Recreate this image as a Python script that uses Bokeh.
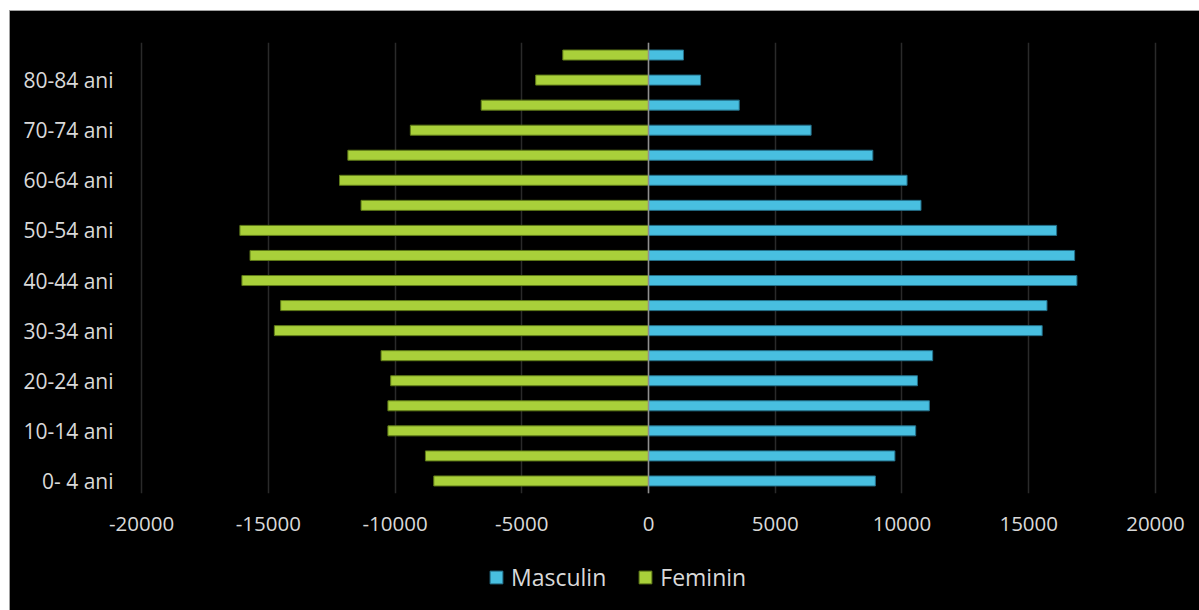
from bokeh.plotting import figure
from bokeh.layouts import column
from bokeh.models import FixedTicker, Legend, LegendItem, Span, Range1d, ColumnDataSource
from bokeh.embed import file_html
from bokeh.resources import INLINE

categories = ["0- 4 ani", "5-9 ani", "10-14 ani", "15-19 ani", "20-24 ani", "25-29 ani",
              "30-34 ani", "35-39 ani", "40-44 ani", "45-49 ani", "50-54 ani", "55-59 ani",
              "60-64 ani", "65-69 ani", "70-74 ani", "75-79 ani", "80-84 ani", "85+ ani"]
masculin = [8950, 9720, 10540, 11080, 10610, 11210, 15530, 15720, 16900, 16810,
            16100, 10750, 10200, 8850, 6415, 3580, 2055, 1380]
feminin = [-8470, -8800, -10280, -10280, -10170, -10550, -14760, -14510, -16040, -15720,
           -16120, -11340, -12190, -11860, -9395, -6600, -4450, -3380]
x_ticks = [-20000, -15000, -10000, -5000, 0, 5000, 10000, 15000, 20000]
x_tick_labels = ["-20000", "-15000", "-10000", "-5000", "0", "5000", "10000", "15000", "20000"]
series_names = ["Masculin", "Feminin"]

FONT = "Open Sans"
TXT = "#d9d9d9"
BLUE = "#48bfe0"
GREEN = "#a9d03a"
BLUE_EDGE = "#24708a"
GREEN_EDGE = "#5f7a18"
BLACK_CSS = {"background-color": "black"}

ypos = list(range(len(categories)))
src = ColumnDataSource(dict(y=ypos, m=masculin, f=feminin, cat=categories))

p = figure(width=1189, height=545, output_backend="svg", toolbar_location=None,
           x_range=Range1d(-20080, 20080), y_range=Range1d(-0.5, len(categories) - 0.5),
           min_border_left=129, min_border_right=42, min_border_top=31, min_border_bottom=63,
           background_fill_color="black", border_fill_color="black",
           outline_line_color=None)
p.styles = dict(BLACK_CSS)

rm = p.hbar(y="y", left=0, right="m", height=0.4, source=src,
            fill_color=BLUE, line_color=BLUE_EDGE, line_width=1)
rf = p.hbar(y="y", left="f", right=0, height=0.4, source=src,
            fill_color=GREEN, line_color=GREEN_EDGE, line_width=1)

p.add_layout(Span(location=0, dimension="height", line_color="#8f8f8f", line_width=1.5))

# x axis
p.xaxis.ticker = FixedTicker(ticks=x_ticks)
p.xaxis.major_label_overrides = {t: l for t, l in zip(x_ticks, x_tick_labels)}
p.xaxis.axis_line_color = None
p.xaxis.major_tick_line_color = None
p.xaxis.minor_tick_line_color = None
p.xaxis.major_label_text_color = TXT
p.xaxis.major_label_text_font = FONT
p.xaxis.major_label_text_font_size = "20.5px"
p.xaxis.major_label_standoff = 17

# y axis
p.yaxis.ticker = FixedTicker(ticks=ypos[::2])
p.yaxis.major_label_overrides = {i: categories[i] for i in ypos[::2]}
p.yaxis.axis_line_color = None
p.yaxis.major_tick_line_color = None
p.yaxis.minor_tick_line_color = None
p.yaxis.major_label_text_color = TXT
p.yaxis.major_label_text_font = FONT
p.yaxis.major_label_text_font_size = "21px"
p.yaxis.major_label_standoff = 20

p.xgrid.grid_line_color = "#2a2a2a"
p.xgrid.grid_line_width = 1.5
p.ygrid.grid_line_color = None

# legend strip below the chart (its renderers sit outside the visible range)
lf = figure(width=1189, height=54, output_backend="svg", toolbar_location=None,
            x_range=Range1d(-20080, 20080), y_range=Range1d(100, 101),
            min_border=0, background_fill_color="black", border_fill_color="black",
            outline_line_color=None)
lf.styles = dict(BLACK_CSS)
lf.axis.visible = False
lf.grid.visible = False
lm = lf.hbar(y="y", left=0, right="m", height=0.4, source=src,
             fill_color=BLUE, line_color=BLUE_EDGE, line_width=1)
lfm = lf.hbar(y="y", left="f", right=0, height=0.4, source=src,
              fill_color=GREEN, line_color=GREEN_EDGE, line_width=1)
legend = Legend(items=[LegendItem(label=series_names[0], renderers=[lm]),
                       LegendItem(label=series_names[1], renderers=[lfm])],
                orientation="horizontal", location=(349, 17),
                background_fill_color="black", background_fill_alpha=0, border_line_color=None,
                label_text_color=TXT, label_text_font=FONT, label_text_font_size="23px",
                glyph_width=16, glyph_height=16, spacing=31, label_standoff=7,
                margin=0, padding=0)
lf.add_layout(legend)

layout = column(p, lf, spacing=0)
layout.styles = {"margin-top": "10px", "margin-left": "9px", "background-color": "black",
                 "border-top": "1px solid #a0a0a0", "border-left": "1px solid #a0a0a0"}

open("out.html", "w").write(file_html(layout, INLINE))
